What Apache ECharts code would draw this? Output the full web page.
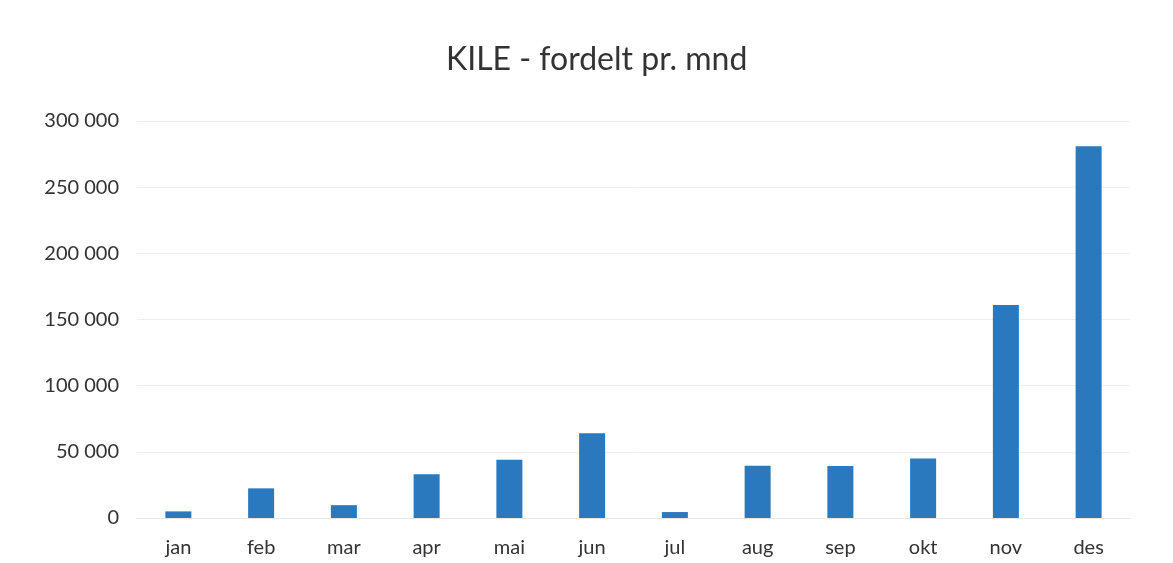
<!DOCTYPE html>
<html><head><meta charset="utf-8">
<script src="https://cdn.jsdelivr.net/npm/echarts@6/dist/echarts.min.js"></script>
<style>html,body{margin:0;padding:0;background:#fff}#c{width:1173px;height:563px}</style>
</head><body><div id="c"></div>
<script>
const categories = ['jan','feb','mar','apr','mai','jun','jul','aug','sep','okt','nov','des'];
const values = [5000, 22400, 9700, 33000, 44000, 64000, 4500, 39500, 39300, 45000, 161000, 281000];
const yTicks = [0, 50000, 100000, 150000, 200000, 250000, 300000];
const chart = echarts.init(document.getElementById('c'));
chart.setOption({
  animation: false,
  backgroundColor: '#fff',
  title: {text: 'KILE - fordelt pr. mnd', left: 446, top: 44, padding: 0,
    textStyle: {fontFamily: 'Lato', fontSize: 32, fontWeight: 'normal', color: '#333'}},
  grid: {left: 137, right: 43, top: 121, bottom: 45},
  xAxis: {type: 'category', data: categories,
    axisLine: {show: true, lineStyle: {color: '#e8e8e8'}}, axisTick: {show: false},
    axisLabel: {fontFamily: 'Lato', fontSize: 20, color: '#333', margin: 20}},
  yAxis: {type: 'value', min: yTicks[0], max: yTicks[yTicks.length-1], interval: 50000,
    axisLine: {show: false}, axisTick: {show: false},
    splitLine: {lineStyle: {color: '#eeeeee'}},
    axisLabel: {fontFamily: 'Lato', fontSize: 20, color: '#333', margin: 18,
      formatter: v => v === 0 ? '0' : String(v).replace(/\B(?=(\d{3})+(?!\d))/g, ' ')}},
  series: [{type: 'bar', data: values, barWidth: 26, itemStyle: {color: '#2a78bd'}}]
});
</script></body></html>
